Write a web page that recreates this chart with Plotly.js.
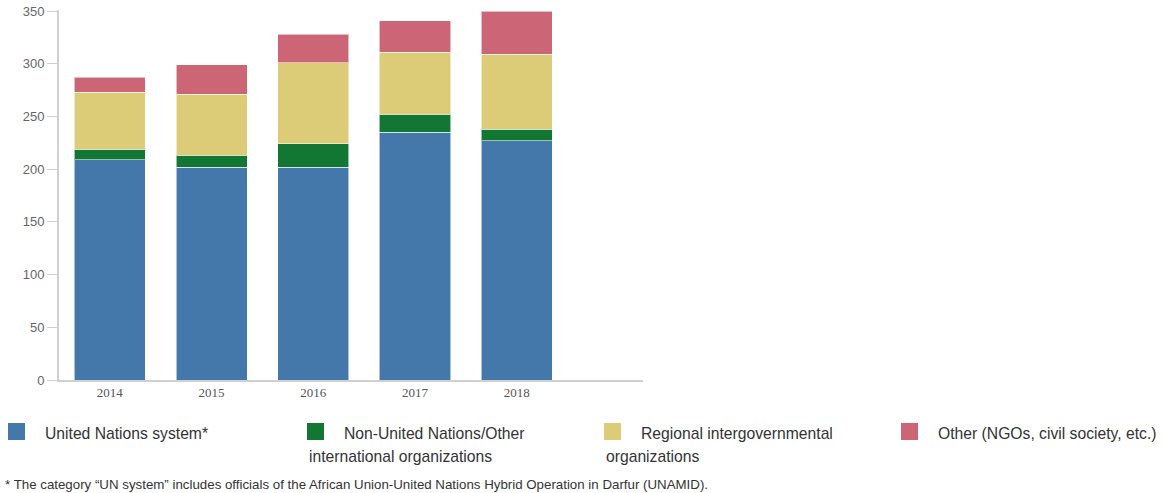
<!DOCTYPE html>
<html>
<head>
<meta charset="utf-8">
<script src="https://cdn.plot.ly/plotly-3.0.1.min.js"></script>
<style>
  html, body { margin: 0; padding: 0; background: #fff; }
  #chart { width: 1162px; height: 493px; }
</style>
</head>
<body>
<div id="chart"></div>
<script>
// ---- Data ----
const years = ["2014", "2015", "2016", "2017", "2018"];
const unSystem = [209, 202, 202, 235, 227];
const nonUN = [10, 11, 22, 17, 11];
const regional = [54, 58, 77, 59, 71];
const other = [14, 28, 27, 30, 41];
const seriesNames = [
  "United Nations system*",
  "Non-United Nations/Other<br>international organizations",
  "Regional intergovernmental<br>organizations",
  "Other (NGOs, civil society, etc.)"
];
const seriesColors = ["#4477AA", "#117733", "#DDCC77", "#CC6677"];
const yTicks = [0, 50, 100, 150, 200, 250, 300, 350];
const footnote = "* The category \u201cUN system\u201d includes officials of the African Union-United Nations Hybrid Operation in Darfur (UNAMID).";

// ---- Layout geometry (pixels) ----
const W = 1162, H = 493;
const plotL = 59, plotR = 643, plotT = 10, plotB = 380;
const px = x => (x - plotL) / (plotR - plotL);
const py = y => (plotB - y) / (plotB - plotT);

const values = [unSystem, nonUN, regional, other];
const traces = values.map((v, i) => ({
  type: "bar",
  x: years,
  y: v,
  name: seriesNames[i].replace("<br>", " "),
  marker: { color: seriesColors[i], line: { color: "rgba(255,255,255,0.55)", width: 1 } },
  showlegend: false
}));

// Custom legend (squares + wrapped text) below the chart
const legendCols = [8, 307, 604, 901];
const textOffset = 35;
const legendFont = { family: "Liberation Sans, Arial, sans-serif", size: 15.7, color: "#333" };
const shapes = [];
const annotations = [];
seriesNames.forEach((nm, i) => {
  const x0 = legendCols[i];
  shapes.push({
    type: "rect", xref: "paper", yref: "paper",
    x0: px(x0), x1: px(x0 + 17), y0: py(440), y1: py(423),
    fillcolor: seriesColors[i], line: { width: 0 }
  });
  const parts = nm.split("<br>");
  annotations.push({
    xref: "paper", yref: "paper", x: px(x0 + textOffset), y: py(433),
    xanchor: "left", yanchor: "middle", showarrow: false,
    text: parts[0], font: legendFont
  });
  if (parts[1]) {
    annotations.push({
      xref: "paper", yref: "paper", x: px(x0), y: py(456),
      xanchor: "left", yanchor: "middle", showarrow: false,
      text: parts[1], font: legendFont
    });
  }
});
annotations.push({
  xref: "paper", yref: "paper", x: px(3), y: py(484),
  xanchor: "left", yanchor: "middle", showarrow: false,
  text: footnote, font: { family: "Liberation Sans, Arial, sans-serif", size: 13.3, color: "#333" }
});

const layout = {
  width: W, height: H,
  margin: { l: plotL, r: W - plotR, t: plotT, b: H - plotB, pad: 0 },
  paper_bgcolor: "#fff", plot_bgcolor: "#fff",
  barmode: "stack",
  bargap: 0.30,
  showlegend: false,
  xaxis: {
    type: "category",
    range: [-0.5, 5.24],
    showgrid: false, zeroline: false,
    showline: true, linecolor: "#d0d0d0", linewidth: 1.5,
    ticks: "",
    tickfont: { family: "Liberation Serif, Times New Roman, serif", size: 13, color: "#555" },
    fixedrange: true
  },
  yaxis: {
    range: [0, 351],
    tickvals: yTicks,
    ticktext: yTicks.map(String),
    showgrid: false, zeroline: false,
    showline: true, linecolor: "#d0d0d0", linewidth: 2,
    ticks: "outside", ticklen: 10, tickwidth: 1, tickcolor: "#d0d0d0",
    tickfont: { family: "Liberation Sans, Arial, sans-serif", size: 13, color: "#666" },
    fixedrange: true
  },
  shapes: shapes,
  annotations: annotations
};

Plotly.newPlot("chart", traces, layout, { displayModeBar: false, staticPlot: true });
</script>
</body>
</html>
